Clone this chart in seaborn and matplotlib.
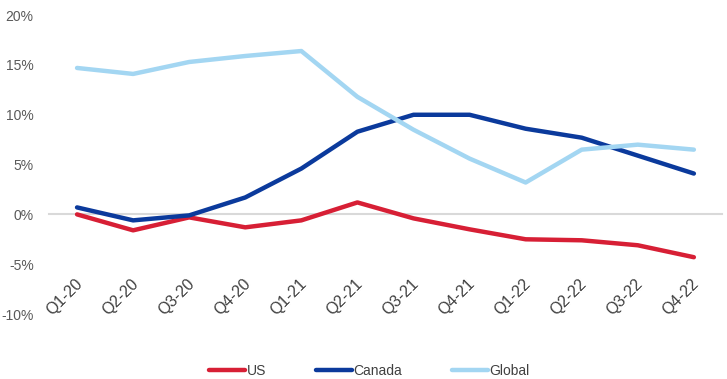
import pandas as pd
import numpy as np
import matplotlib
matplotlib.use('Agg')
import matplotlib.pyplot as plt
import seaborn as sns

quarters = ['Q1-20', 'Q2-20', 'Q3-20', 'Q4-20', 'Q1-21', 'Q2-21',
            'Q3-21', 'Q4-21', 'Q1-22', 'Q2-22', 'Q3-22', 'Q4-22']
us = [0.0, -1.6, -0.3, -1.3, -0.6, 1.2, -0.4, -1.5, -2.5, -2.6, -3.1, -4.3]
canada = [0.7, -0.6, -0.1, 1.7, 4.6, 8.3, 10.0, 10.0, 8.6, 7.7, 5.9, 4.1]
global_ = [14.7, 14.1, 15.3, 15.9, 16.4, 11.8, 8.5, 5.6, 3.2, 6.5, 7.0, 6.5]
series_names = ['US', 'Canada', 'Global']
y_ticks = [-10, -5, 0, 5, 10, 15, 20]

colors = {'US': '#d71f35', 'Canada': '#0b3a9c', 'Global': '#a3d6f2'}

sns.set_style('white')
plt.rcParams['font.family'] = ['Liberation Sans', 'DejaVu Sans']

df = pd.DataFrame({
    'quarter': quarters * 3,
    'pos': list(range(len(quarters))) * 3,
    'value': us + canada + global_,
    'series': ['US'] * 12 + ['Canada'] * 12 + ['Global'] * 12,
})

fig = plt.figure(figsize=(7.27, 3.79), dpi=100)
ax = fig.add_axes([0.0674, 0.1715, 0.9256, 0.7885])

sns.lineplot(data=df, x='pos', y='value', hue='series', hue_order=series_names,
             palette=colors, linewidth=3.2, ax=ax, legend=True)

ax.set_xlim(-0.5, len(quarters) - 0.5)
ax.set_ylim(-10, 20)
ax.set_yticks(y_ticks)
ax.set_yticklabels([f'{v}%' for v in y_ticks], fontsize=10, color='#595959')
ax.tick_params(axis='y', length=0, pad=11)

# asse zero con tacche tra le categorie
for s in ['top', 'right', 'left']:
    ax.spines[s].set_visible(False)
ax.spines['bottom'].set_position(('data', 0))
ax.spines['bottom'].set_color('#d9d9d9')
ax.spines['bottom'].set_linewidth(1.5)
ax.spines['bottom'].set_zorder(0)
ax.set_xticks(np.arange(-0.5, len(quarters), 1.0))
ax.set_xticklabels([])
ax.tick_params(axis='x', direction='out', length=5, width=1.2, color='#d9d9d9')

# etichette categorie ruotate, in basso
for i, q in enumerate(quarters):
    ax.text(i + 0.05, -6.7, q, rotation=45, rotation_mode='anchor',
            ha='right', va='center', fontsize=11.5, color='#404040')

ax.set_xlabel('')
ax.set_ylabel('')
ax.grid(False)

handles, labels = ax.get_legend_handles_labels()
ax.legend(handles, labels, loc='lower center', bbox_to_anchor=(0.508, -0.03),
          bbox_transform=fig.transFigure, ncol=3, frameon=False,
          handlelength=2.6, handletextpad=0.1, columnspacing=3.6,
          fontsize=10, labelcolor='#404040')

plt.savefig('out.png', dpi=100)
